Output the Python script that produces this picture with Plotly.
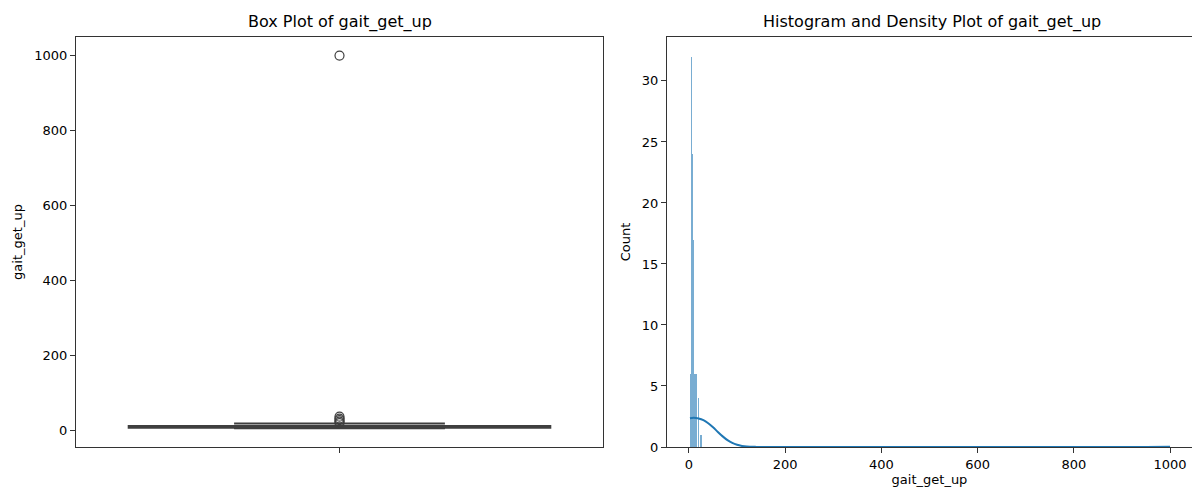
import plotly.graph_objects as go

# ---------------- data ----------------
# Box plot statistics
box_q1 = 6.5
box_median = 8.5
box_q3 = 11.0
box_lower = 5.0
box_upper = 17.5
box_outliers = [19, 23, 27, 31, 36, 1000]

# Histogram bins (left edges) and counts
bin_width = 1.5
bin_left = [2.0, 3.5, 5.0, 6.5, 8.0, 9.5, 11.0, 12.5, 14.0, 15.5, 18.5, 22.5, 26.0, 30.5, 999.0]
bin_count = [6, 6, 32, 24, 17, 16, 6, 6, 6, 6, 4, 1, 1, 1, 1]

# Density curve (scaled to counts)
kde_x = [2, 10, 20, 30, 40, 50, 60, 70, 80, 90, 100, 110, 120, 140, 160, 200, 400, 600, 800, 900, 950, 1000]
kde_y = [2.36, 2.4, 2.34, 2.2, 1.95, 1.62, 1.23, 0.87, 0.56, 0.33, 0.18, 0.09, 0.04, 0.01, 0.0, 0.0, 0.0, 0.0, 0.0, 0.004, 0.01, 0.016]

left_yticks = [0, 200, 400, 600, 800, 1000]
right_xticks = [0, 200, 400, 600, 800, 1000]
right_yticks = [0, 5, 10, 15, 20, 25, 30]

# ---------------- figure ----------------
W, H = 1192, 492
HE = 484  # effective rendered height observed
fig = go.Figure()

dark = "#3f3f3f"
fig.add_trace(go.Box(
    x=[0], q1=[box_q1], median=[box_median], q3=[box_q3],
    lowerfence=[box_lower], upperfence=[box_upper],
    width=0.8, whiskerwidth=0.5,
    fillcolor="#1f77b4", line=dict(color=dark, width=2),
    boxpoints=False, xaxis="x", yaxis="y", showlegend=False,
))
fig.add_trace(go.Scatter(
    x=[0] * len(box_outliers), y=box_outliers, mode="markers",
    marker=dict(symbol="circle-open", size=9, color=dark, line=dict(width=1.2, color=dark)),
    xaxis="x", yaxis="y", showlegend=False,
))

fig.add_trace(go.Bar(
    x=[b + bin_width / 2 for b in bin_left], y=bin_count, width=bin_width,
    marker=dict(color="rgba(31,119,180,0.6)", line=dict(width=0)),
    xaxis="x2", yaxis="y2", showlegend=False,
))
fig.add_trace(go.Scatter(
    x=kde_x, y=kde_y, mode="lines", line=dict(color="#1f77b4", width=2, shape="spline"),
    xaxis="x2", yaxis="y2", showlegend=False,
))

font = dict(family="DejaVu Sans", size=13, color="black")
axis_common = dict(showline=True, linecolor="#333", linewidth=1, ticks="outside",
                   ticklen=5, tickcolor="#333", showgrid=False, zeroline=False,
                   tickfont=dict(family="DejaVu Sans", size=13, color="black"))

fig.update_layout(
    width=W, height=H, autosize=False, margin=dict(l=0, r=0, t=0, b=0),
    plot_bgcolor="white", paper_bgcolor="white", font=font, bargap=0,
    xaxis=dict(domain=[76 / W, 603 / W], range=[-0.5, 0.5], tickvals=[0], ticktext=[""],
               mirror=True, anchor="y", **axis_common),
    yaxis=dict(domain=[1 - 447 / HE, 1 - 37 / HE], range=[-45, 1049.5], tickvals=left_yticks,
               mirror=True, anchor="x",
               title=dict(text="gait_get_up", font=dict(family="DejaVu Sans", size=13), standoff=8),
               **axis_common),
    xaxis2=dict(domain=[667 / W, 1.0], range=[-45.7, 1045.7], tickvals=right_xticks,
                mirror=True, anchor="y2",
                title=dict(text="gait_get_up", font=dict(family="DejaVu Sans", size=13), standoff=4),
                **axis_common),
    yaxis2=dict(domain=[1 - 447 / HE, 1 - 37 / HE], range=[0, 33.6], tickvals=right_yticks,
                anchor="x2",
                title=dict(text="Count", font=dict(family="DejaVu Sans", size=13), standoff=8),
                **axis_common),
    annotations=[
        dict(text="Box Plot of gait_get_up", x=339.5 / W, y=1 - 22 / HE, xref="paper", yref="paper",
             showarrow=False, font=dict(family="DejaVu Sans", size=16, color="black"),
             xanchor="center", yanchor="middle"),
        dict(text="Histogram and Density Plot of gait_get_up", x=932 / W, y=1 - 22 / HE,
             xref="paper", yref="paper", showarrow=False,
             font=dict(family="DejaVu Sans", size=16, color="black"),
             xanchor="center", yanchor="middle"),
    ],
)

fig.write_html("out.html",
               config={"displayModeBar": False, "responsive": False},
               default_width="1192px", default_height="492px",
               post_script="document.body.style.margin='0px';document.body.style.overflow='hidden';")
